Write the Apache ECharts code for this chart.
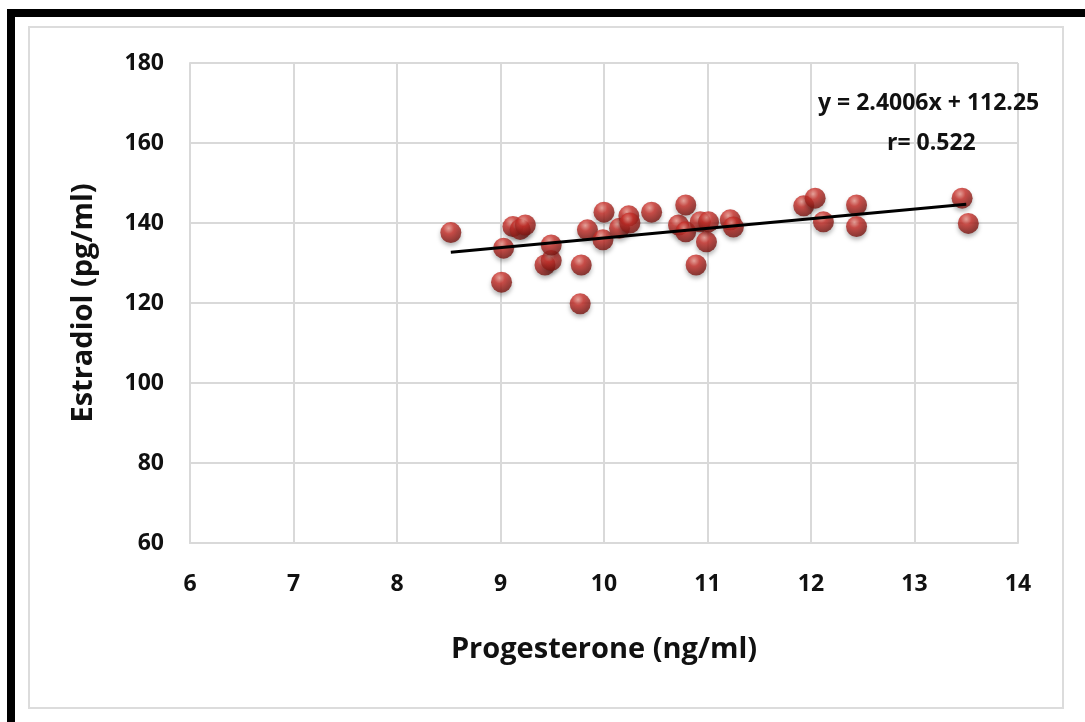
<!DOCTYPE html>
<html>
<head>
<meta charset="utf-8">
<script src="https://cdn.jsdelivr.net/npm/echarts@6/dist/echarts.min.js"></script>
<style>
  html, body { margin: 0; padding: 0; background: #fff; overflow: hidden; }
  #frame { position: absolute; left: 7px; top: 9px; width: 1100px; height: 730px;
           border-top: 8px solid #000; border-left: 8px solid #000; }
  #panel { position: absolute; left: 28px; top: 26px; width: 1032px; height: 679px;
           border: 2px solid #dcdcdc; }
  #chart { position: absolute; left: 0; top: 0; width: 1085px; height: 722px; }
</style>
</head>
<body>
<div id="frame"></div>
<div id="panel"></div>
<div id="chart"></div>
<script>
// progesterone (ng/ml) vs estradiol (pg/ml)
const progesterone = [8.52, 9.01, 9.03, 9.12, 9.19, 9.24, 9.43, 9.49, 9.49, 9.77,
  9.78, 9.84, 9.99, 10.00, 10.15, 10.24, 10.25, 10.46, 10.72, 10.79,
  10.79, 10.89, 10.93, 10.99, 11.01, 11.22, 11.25, 11.93, 12.04, 12.12,
  12.44, 12.44, 13.46, 13.52];
const estradiol = [137.6, 125.2, 133.7, 139.1, 138.4, 139.5, 129.5, 130.6, 134.5, 119.8,
  129.5, 138.3, 135.8, 142.7, 138.7, 141.8, 140.0, 142.7, 139.5, 144.5,
  137.8, 129.5, 140.3, 135.3, 140.3, 140.8, 139.0, 144.3, 146.2, 140.3,
  144.5, 139.1, 146.2, 139.9];
const slope = 2.4006;
const intercept = 112.25;
const fitRange = [8.52, 13.5];
const equationText = 'y = 2.4006x + 112.25';
const rText = 'r= 0.522';

const points = progesterone.map((x, i) => [x, estradiol[i]]);
const fitLine = fitRange.map(x => [x, slope * x + intercept]);

const chart = echarts.init(document.getElementById('chart'));
const tickFont = { fontFamily: 'Open Sans', fontWeight: 'bold', fontSize: 23, color: '#111' };
const nameFont = { fontFamily: 'Open Sans', fontWeight: 'bold', fontSize: 29, color: '#111' };

chart.setOption({
  animation: false,
  backgroundColor: 'transparent',
  grid: { left: 190, right: 67, top: 63, bottom: 179, containLabel: false },
  xAxis: {
    type: 'value', min: 6, max: 14, interval: 1,
    name: 'Progesterone (ng/ml)', nameLocation: 'middle', nameGap: 92,
    nameTextStyle: nameFont,
    axisLine: { show: true, lineStyle: { color: '#d9d9d9', width: 2 } },
    axisTick: { show: false },
    axisLabel: Object.assign({ margin: 30 }, tickFont),
    splitLine: { show: true, lineStyle: { color: '#d9d9d9', width: 2 } }
  },
  yAxis: {
    type: 'value', min: 60, max: 180, interval: 20,
    name: 'Estradiol (pg/ml)', nameLocation: 'middle', nameGap: 92,
    nameTextStyle: nameFont,
    axisLine: { show: true, lineStyle: { color: '#d9d9d9', width: 2 } },
    axisTick: { show: false },
    axisLabel: Object.assign({ margin: 26 }, tickFont),
    splitLine: { show: true, lineStyle: { color: '#d9d9d9', width: 2 } }
  },
  series: [
    {
      type: 'scatter',
      data: points,
      symbolSize: 21,
      itemStyle: {
        color: {
          type: 'radial', x: 0.4, y: 0.3, r: 0.75,
          colorStops: [
            { offset: 0, color: '#ee9a90' },
            { offset: 0.35, color: '#c9302a' },
            { offset: 1, color: '#6e120e' }
          ]
        },
        shadowColor: 'rgba(0,0,0,0.35)', shadowBlur: 4, shadowOffsetY: 3
      },
      z: 2
    },
    {
      type: 'line',
      data: fitLine,
      symbol: 'none',
      lineStyle: { color: '#000', width: 3 },
      z: 3
    }
  ],
  graphic: [
    {
      type: 'text', z: 100, left: 818, top: 92,
      style: { text: equationText, fontFamily: 'Open Sans', fontWeight: 'bold', fontSize: 23, fill: '#111' }
    },
    {
      type: 'text', z: 100, left: 887, top: 132,
      style: { text: rText, fontFamily: 'Open Sans', fontWeight: 'bold', fontSize: 23, fill: '#111' }
    }
  ]
});
</script>
</body>
</html>
